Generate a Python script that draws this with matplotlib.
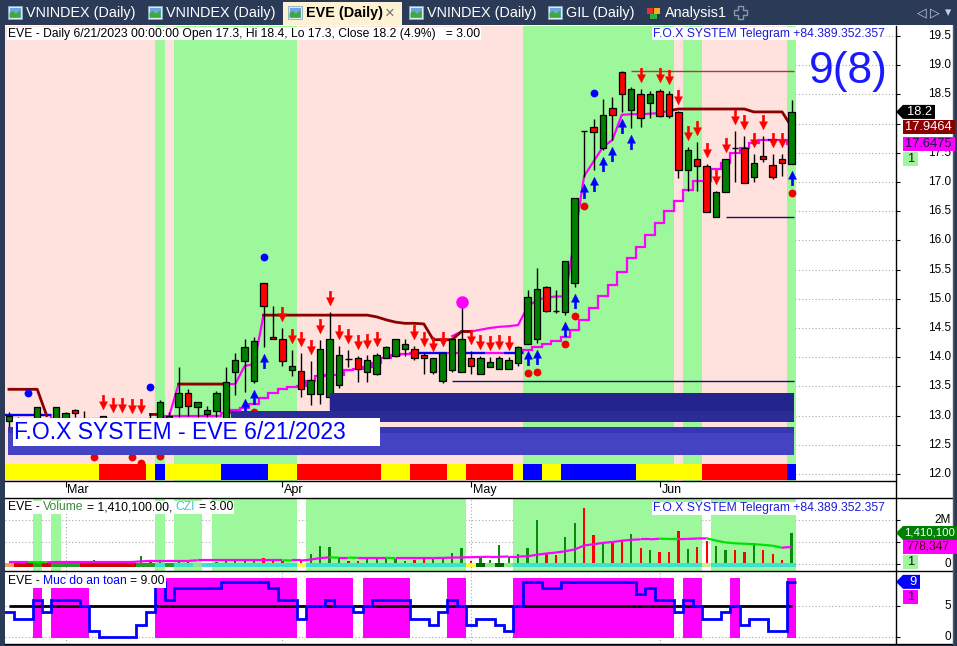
import numpy as np
import pandas as pd
import matplotlib
matplotlib.use("Agg")
import matplotlib.pyplot as plt
import matplotlib.transforms as mtrans
from matplotlib.patches import Rectangle, Polygon
from matplotlib.path import Path
from matplotlib.collections import LineCollection

nan = np.nan

# trading days, HOSE closed May 1-3
dates = pd.bdate_range("2023-02-21", "2023-06-21")
dates = dates[~dates.isin(pd.to_datetime(["2023-05-01", "2023-05-02", "2023-05-03"]))]

opens = [12.90, 12.95, 12.90, 12.85, 12.95, 12.90, 12.90, 13.10, 12.95, 12.85,
         12.99, 12.90, 12.88, 12.85, 12.75, 12.95, 12.90, 12.95, 13.14, 13.38,
         13.14, 13.03, 13.08, 12.96, 13.75, 13.94, 13.60, 15.27, 14.35, 14.32,
         13.78, 13.76, 13.37, 13.37, 13.32, 13.52, 13.97, 13.98, 13.75, 13.71,
         13.98, 14.02, 14.14, 14.14, 14.04, 13.75, 13.60, 13.78, 13.75, 13.98,
         13.71, 13.84, 13.79, 13.79, 13.90, 14.22, 14.32, 15.21, 14.79, 14.78,
         15.27, 17.87, 17.95, 17.58, 18.27, 18.89, 18.24, 18.50, 18.35, 18.56,
         18.50, 18.19, 17.20, 17.39, 17.28, 16.40, 16.83, 17.59, 17.59, 17.09,
         17.45, 17.29, 17.39, 17.30]
highs = [13.06, 12.98, 12.94, 13.15, 12.96, 13.15, 13.06, 13.11, 13.08, 12.95,
         13.00, 12.95, 12.94, 12.93, 12.92, 13.04, 13.27, 13.06, 13.83, 13.45,
         13.24, 13.16, 13.42, 13.83, 14.08, 14.31, 14.35, 15.27, 14.88, 14.50,
         14.12, 14.08, 13.94, 14.30, 14.78, 14.20, 14.12, 14.02, 14.04, 14.08,
         14.20, 14.32, 14.31, 14.19, 14.08, 13.98, 14.08, 14.32, 14.95, 14.11,
         14.02, 14.00, 14.02, 14.00, 14.20, 15.15, 15.52, 15.22, 15.15, 15.64,
         16.72, 17.87, 18.07, 18.42, 18.45, 18.90, 18.62, 18.59, 18.55, 18.60,
         18.55, 18.22, 17.60, 17.69, 17.30, 16.85, 17.39, 17.88, 17.78, 17.48,
         17.78, 17.48, 17.48, 18.40]
lows = [12.80, 12.80, 12.70, 12.75, 12.80, 12.85, 12.85, 12.98, 12.80, 12.78,
        12.80, 12.75, 12.70, 12.78, 12.68, 12.85, 12.80, 12.85, 12.98, 12.99,
        12.98, 12.98, 12.98, 12.90, 13.35, 13.41, 13.55, 14.18, 14.31, 13.85,
        13.67, 13.32, 13.18, 13.20, 13.10, 13.47, 13.83, 13.58, 13.58, 13.70,
        13.98, 14.00, 14.02, 13.95, 13.72, 13.71, 13.55, 13.75, 13.75, 13.72,
        13.71, 13.84, 13.79, 13.79, 13.85, 14.22, 14.24, 14.78, 14.75, 14.72,
        15.20, 17.08, 17.20, 17.55, 17.72, 18.20, 17.92, 17.95, 18.09, 18.11,
        18.10, 17.06, 16.85, 16.85, 16.49, 16.40, 16.83, 17.00, 16.99, 17.00,
        17.35, 17.05, 17.10, 17.30]
closes = [13.00, 12.88, 12.85, 13.15, 12.90, 13.15, 13.05, 13.04, 12.95, 12.92,
          12.96, 12.85, 12.80, 12.82, 12.90, 12.90, 13.23, 12.99, 13.38, 13.17,
          13.23, 13.09, 13.38, 13.57, 13.95, 14.17, 14.28, 14.88, 14.32, 13.94,
          13.85, 13.46, 13.61, 14.14, 14.32, 14.04, 13.97, 13.79, 13.95, 14.04,
          14.17, 14.32, 14.23, 13.98, 13.98, 13.98, 14.08, 14.32, 14.32, 13.85,
          13.98, 13.91, 13.98, 13.95, 14.17, 15.03, 15.16, 14.79, 14.79, 15.64,
          16.72, 17.87, 17.86, 18.15, 18.15, 18.50, 18.60, 18.09, 18.50, 18.13,
          18.13, 17.20, 17.55, 17.28, 16.49, 16.83, 17.39, 17.59, 16.99, 17.33,
          17.39, 17.09, 17.33, 18.20]

# volume in millions of shares and its average line
volume_m = [0.05, 0.06, 0.12, 0.04, 0.05, 0.05, 0.06, 0.05, 0.03, 0.18,
            0.08, 0.06, 0.07, 0.09, 0.38, 0.15, 0.14, 0.05, 0.12, 0.08,
            0.06, 0.05, 0.10, 0.20, 0.22, 0.20, 0.22, 0.29, 0.18, 0.14,
            0.06, 0.18, 0.44, 0.82, 0.76, 0.26, 0.14, 0.15, 0.24, 0.25,
            0.25, 0.24, 0.15, 0.16, 0.22, 0.24, 0.26, 0.48, 0.71, 0.15,
            0.33, 0.18, 0.86, 0.33, 0.45, 0.74, 2.00, 0.48, 0.41, 1.24,
            1.85, 2.56, 1.32, 1.02, 0.98, 1.09, 1.36, 0.71, 0.64, 0.53,
            0.56, 1.50, 0.67, 0.76, 1.06, 0.82, 0.64, 0.64, 0.56, 0.97,
            0.64, 0.45, 0.18, 1.4101]
vol_avg_m = [0.09, 0.09, 0.09, 0.085, 0.08, 0.09, 0.09, 0.09, 0.09, 0.09,
             0.09, 0.09, 0.09, 0.09, 0.12, 0.14, 0.14, 0.14, 0.14, 0.14,
             0.17, 0.17, 0.17, 0.17, 0.17, 0.17, 0.17, 0.17, 0.17, 0.17,
             0.16, 0.16, 0.20, 0.27, 0.30, 0.29, 0.29, 0.28, 0.28, 0.28,
             0.28, 0.27, 0.27, 0.27, 0.27, 0.27, 0.28, 0.29, 0.30, 0.31,
             0.32, 0.33, 0.33, 0.34, 0.34, 0.35, 0.42, 0.48, 0.52, 0.58,
             0.66, 0.84, 0.90, 0.96, 1.00, 1.06, 1.10, 1.12, 1.12, 1.15,
             1.14, 1.13, 1.14, 1.16, 1.17, 1.06, 0.98, 0.94, 0.92, 0.90,
             0.87, 0.83, 0.74, 0.778347]

# system lines on the price pane
res_line = ([13.45] * 4 + [13.00] + [nan] * 10 + [13.02] * 2 + [nan] + [13.54] * 6 + [nan] * 3
            + [14.72] * 12 + [14.69, 14.64, 14.60, 14.58, 14.58, 14.57, 14.30, 14.30, 14.30, 14.44, 14.44]
            + [nan] * 20 + [18.22] + [18.25] * 8 + [18.20] * 4 + [17.9464])
fast_stop = ([nan] * 17 + [13.00] + [13.54] * 6 + [13.54, 13.85, 13.88, 14.72] + [nan] * 19
             + [14.36, 14.44, 14.44, 14.47, 14.50, 14.52, 14.53, 14.55, 14.86, 14.98, 15.02, 15.04,
                15.04, 16.05, 17.10, 17.35, 17.60, 17.72, 18.15, 18.16, 18.16, 18.17, 18.18, 18.22]
             + [nan] * 13)
slow_stop = ([13.01] * 5 + [12.95] * 12 + [12.99] * 6
             + [13.05, 13.10, 13.13, 13.20, 13.30, 13.38, 13.45, 13.49, 13.51, 13.60,
                13.67, 13.70, 13.70, 13.78, 13.80, 13.83, 13.90, 13.99, 14.04, 14.06]
             + [14.08] * 12
             + [14.12, 14.17, 14.22, 14.27, 14.35, 14.47, 14.64, 14.84, 15.04, 15.24,
                15.46, 15.70, 15.89, 16.09, 16.30, 16.51, 16.68, 16.86, 17.02, 17.02,
                17.23, 17.33, 17.49, 17.58, 17.66, 17.72, 17.72, 17.72, 17.6475])
slow_blue_idx = [0, 1, 2, 3, 4, 44, 45, 46, 49, 50, 53, 54, 81]
# horizontal levels: (price, first bar)
top_level = (18.90, 66)
support_levels = [(13.60, 47), (16.40, 76)]
# zones: (low, high, first bar)
zones = [(13.06, 13.39, 34.0), (12.89, 13.08, 23.5), (12.33, 12.80, -0.05)]

sell_idx = [10, 11, 12, 13, 14, 29, 30, 31, 32, 33, 34, 35, 36, 37, 38, 39, 43, 44, 45, 46,
            49, 50, 51, 52, 53, 67, 69, 70, 71, 72, 73, 74, 75, 76, 77, 78, 79, 80, 81, 82]
buy_idx = [25, 26, 27, 55, 56, 59, 60, 61, 62, 63, 64, 65, 66, 83]
blue_dot_idx = [2, 15, 27, 62]
red_dot_idx = [9, 13, 14, 16, 26, 55, 56, 59, 60, 61, 83]
pivot_idx = [48]

bg_green_idx = [16] + list(range(18, 31)) + list(range(55, 71)) + [72, 73, 83]
vol_green_idx = [3, 5, 16, 18, 19, 20] + list(range(22, 31)) + list(range(32, 49)) + list(range(54, 74)) + list(range(75, 84))
main_ribbon_runs = [("y", 10), ("r", 5), ("y", 1), ("b", 1), ("y", 6), ("b", 5), ("y", 3), ("r", 9),
                    ("y", 3), ("r", 4), ("y", 2), ("r", 5), ("y", 1), ("b", 2), ("y", 2), ("b", 8),
                    ("y", 7), ("r", 9), ("b", 1)]
vol_ribbon_runs = [("o", 1), ("r", 2), ("g", 1), ("r", 1), ("g", 3), ("r", 6), ("g", 2), ("t", 1),
                   ("g", 1), ("t", 2), ("l", 1), ("t", 10), ("y", 1), ("t", 17), ("y", 1), ("d", 1),
                   ("l", 1), ("d", 1), ("l", 1), ("t", 20), ("k", 1), ("t", 9)]
safety = [4, 3, 3, 6, 4, 6, 6, 6, 5, 1, 0, 0, 0, 0, 2, 4, 9, 6, 8, 8,
          8, 8, 8, 9, 9, 9, 9, 9, 8, 6, 6, 3, 5, 5, 6, 5, 5, 4, 5, 6,
          6, 6, 6, 3, 3, 2, 4, 6, 5, 2, 3, 3, 2, 1, 5, 9, 9, 8, 8, 9,
          9, 9, 9, 9, 9, 9, 9, 7, 8, 6, 6, 4, 6, 5, 3, 3, 4, 5, 2, 3,
          3, 1, 1, 9]

o = np.array(opens); h = np.array(highs); l = np.array(lows); c = np.array(closes)
n = len(o)
idx = np.arange(n)

def expand(runs):
    out = []
    for code, k in runs:
        out += [code] * k
    return out

# ---------------- figure frame ----------------
W, H = 957, 646
plt.rcParams["font.family"] = ["Liberation Sans", "DejaVu Sans"]
fig = plt.figure(figsize=(W / 100, H / 100), dpi=100)
fig.patch.set_facecolor("#2b3a57")
renderer = fig.canvas.get_renderer()

GREEN = "#9cf89a"
PINK = "#ffe1de"
MAG = "#ff00ff"


def frect(x0, y0, x1, y1, **kw):
    r = Rectangle((x0 / W, 1 - y1 / H), (x1 - x0) / W, (y1 - y0) / H, transform=fig.transFigure, **kw)
    fig.add_artist(r)
    return r


def fpoly(pts, **kw):
    p = Polygon([(x / W, 1 - y / H) for x, y in pts], closed=True, transform=fig.transFigure, **kw)
    fig.add_artist(p)


def fline(x0, y0, x1, y1, **kw):
    fig.add_artist(plt.Line2D([x0 / W, x1 / W], [1 - y0 / H, 1 - y1 / H], transform=fig.transFigure, **kw))


def ftext(x, y, s, **kw):
    return fig.text(x / W, 1 - y / H, s, **kw)


def text_w(s, size, weight="normal"):
    t = fig.text(0, 0, s, fontsize=size, fontweight=weight)
    w = t.get_window_extent(renderer).width
    t.remove()
    return w


def rich_text(x, y, parts, size=8.7, z=12):
    dot = text_w(".", size)
    pre = ""
    for s, col in parts:
        lead = len(s) - len(s.lstrip())
        head = pre + s[:lead]
        off = (text_w(head + ".", size) - dot) if head else 0
        ftext(x + off, y, s.strip(), color=col, fontsize=size, va="center", ha="left", zorder=z + 1)
        pre += s
    total = text_w(pre, size)
    frect(x - 1, y - 6.5, x + total + 1, y + 6.5, fc="white", ec="none", zorder=z)


def add_ax(x0, y0, x1, y1):
    return fig.add_axes([x0 / W, 1 - y1 / H, (x1 - x0) / W, (y1 - y0) / H])


frect(5, 25, 953, 644, fc="white", ec="none", zorder=-5)

# tab bar
tabs = [("VNINDEX (Daily)", 8), ("VNINDEX (Daily)", 148), ("EVE (Daily)", 288),
        ("VNINDEX (Daily)", 409), ("GIL (Daily)", 548)]
frect(283, 2, 402, 25, fc="#fdf2d4", ec="none", zorder=1)
for name, x in tabs:
    frect(x, 6, x + 14, 19, fc="#dfe9f5", ec="#8fa8c8", lw=0.6, zorder=2)
    frect(x + 1.5, 7.5, x + 12.5, 17.5, fc="#6fa6dc", ec="none", zorder=2)
    fpoly([(x + 1.5, 17.5), (x + 1.5, 13), (x + 5, 11), (x + 8, 14), (x + 12.5, 10), (x + 12.5, 17.5)],
          fc="#3caa3c", ec="none", zorder=2)
    active = name.startswith("EVE")
    ftext(x + 18, 13.5, name, fontsize=10.4, va="center", ha="left", zorder=3,
          color="black" if active else "white", fontweight="bold" if active else "normal")
ftext(390, 13, "\u00d7", fontsize=12, color="#707070", va="center", ha="center", zorder=3)
frect(647, 8, 653, 14, fc="#e83030", ec="none", zorder=2)
frect(654, 8, 660, 14, fc="#f0b020", ec="none", zorder=2)
frect(650, 14, 657, 19, fc="#30b040", ec="none", zorder=2)
ftext(665, 13.5, "Analysis1", fontsize=10.4, va="center", ha="left", color="white", zorder=3)
fpoly([(738, 6), (743, 6), (743, 10), (747, 10), (747, 15), (743, 15), (743, 19), (738, 19),
       (738, 15), (734, 15), (734, 10), (738, 10)], fc="none", ec="#8a97ab", lw=1, zorder=3)
for xx, s in [(922, "\u25c1"), (935, "\u25b7"), (948, "\u25be")]:
    ftext(xx, 13, s, fontsize=9, color="#c8d0dc", va="center", ha="center", zorder=3)

# ---------------- panes ----------------
ax = add_ax(5, 26, 896, 481)
axv = add_ax(5, 498, 896, 571)
axb = add_ax(5, 571, 896, 644)
XL = (-0.42, 94.08)
for a in (ax, axv, axb):
    a.set_xlim(*XL)
    a.set_facecolor("white")
    for s in a.spines.values():
        s.set_visible(False)
    a.yaxis.set_ticks_position("right")
    a.tick_params(axis="y", right=True, left=False, labelright=False, labelleft=False,
                  direction="out", length=3, width=0.8, color="black")
    a.tick_params(axis="x", bottom=False, labelbottom=False)

month_idx = [i for i in range(1, n) if dates[i].month != dates[i - 1].month]
edges = np.arange(-0.5, n)


def ytr(a):
    return mtrans.blended_transform_factory(a.transAxes, a.transData)


def xf(px):
    return (px - 5) / 891.0


grid_kw = dict(colors="#a8a8a8", linestyles=(0, (1, 2)), lw=0.8)

# ---- main price pane ----
YL = (11.880, 19.671)
ax.set_ylim(*YL)
price_levels = np.arange(12.0, 19.51, 0.5)
ax.set_yticks(price_levels)
ax.hlines(price_levels, XL[0], XL[1], zorder=0.2, **grid_kw)
for lv in price_levels:
    if abs(lv - 18.0) < 1e-6:
        continue  # fully hidden behind the last-value tags
    ax.text(xf(951), lv, f"{lv:.1f}", transform=ytr(ax), ha="right", va="center", fontsize=8.5, clip_on=False)

bg_cols = [GREEN if i in bg_green_idx else PINK for i in idx]
ax.bar(idx, YL[1] - YL[0], bottom=YL[0], width=1.0, color=bg_cols, lw=0, zorder=0.5, antialiased=False)
rib_map = {"y": "#ffff00", "r": "#ff0000", "b": "#0000ff"}
ax.bar(idx, 12.17 - 11.89, bottom=11.89, width=1.0, color=[rib_map[k] for k in expand(main_ribbon_runs)],
       lw=0, zorder=1, antialiased=False)

ax.hlines(top_level[0], top_level[1], n - 0.7, color="#b03a3a", lw=1, zorder=2)
for lv, st in support_levels:
    ax.hlines(lv, st, n - 0.7, color="#14146e", lw=1, zorder=2)

ax.plot(idx, fast_stop, color=MAG, lw=1.6, zorder=2.1)
ax.plot(idx, res_line, color="#8b0000", lw=2.0, zorder=2.3)
ax.stairs(slow_stop, edges, baseline=None, color=MAG, lw=1.6, zorder=2.1)
ss = np.array(slow_stop)
ax.hlines(ss[slow_blue_idx], np.array(slow_blue_idx) - 0.5, np.array(slow_blue_idx) + 0.5,
          color="#0000ff", lw=1.6, zorder=2.2)

# candles
up = c > o
dn = c < o
fl = c == o
ax.vlines(idx, l, h, color="black", lw=1, zorder=3)
ax.bar(idx[up], (c - o)[up], bottom=o[up], width=0.68, color="#008000", edgecolor="black", lw=0.9, zorder=3.1)
ax.bar(idx[dn], (o - c)[dn], bottom=c[dn], width=0.68, color="#ff0000", edgecolor="black", lw=0.9, zorder=3.1)
ax.hlines(o[fl], idx[fl] - 0.34, idx[fl] + 0.34, color="black", lw=1, zorder=3.1)

# signals
arrow_dn = Path([(-0.16, 1.0), (0.16, 1.0), (0.16, 0.1), (0.55, 0.1), (0.0, -1.0), (-0.55, 0.1),
                 (-0.16, 0.1), (-0.16, 1.0)],
                [Path.MOVETO] + [Path.LINETO] * 6 + [Path.CLOSEPOLY])
arrow_up = Path(arrow_dn.vertices * np.array([1, -1]), arrow_dn.codes)


def shift(px):
    return mtrans.offset_copy(ax.transData, fig=fig, x=0, y=px, units="dots")


ax.plot(idx[sell_idx], h[sell_idx], ls="none", marker=arrow_dn, ms=10.5, mfc="#ff0000", mec="#ff0000",
        mew=0.3, transform=shift(14), zorder=4)
ax.plot(idx[buy_idx], l[buy_idx], ls="none", marker=arrow_up, ms=10.5, mfc="#0000ff", mec="#0000ff",
        mew=0.3, transform=shift(-14), zorder=4)
ax.plot(idx[blue_dot_idx], h[blue_dot_idx], ls="none", marker="o", ms=4.6, color="#0000ff",
        transform=shift(26), zorder=4)
ax.plot(idx[red_dot_idx], l[red_dot_idx], ls="none", marker="o", ms=4.6, color="#f00000",
        transform=shift(-29), zorder=4)
ax.plot(idx[pivot_idx], h[pivot_idx], ls="none", marker="o", ms=8, color=MAG, zorder=4)

zone_cols = ["#24248c", "#2c2c96", "#4343c3"]
for (lo, hi, st), col in zip(zones, zone_cols):
    ax.add_patch(Rectangle((st, lo), n - 0.7 - st, hi - lo, fc=col, ec="none", zorder=5))
ax.add_patch(Rectangle((zones[2][2], 12.70), n - 0.7 - zones[2][2], 0.10, fc="#3737b4", ec="none", zorder=5))

# month axis
ax.spines["bottom"].set_visible(True)
ax.spines["bottom"].set_linewidth(1)
ax.set_xticks(month_idx)
ax.tick_params(axis="x", bottom=True, direction="out", length=4.3, width=0.8, labelbottom=False)
xtr = mtrans.blended_transform_factory(ax.transData, ax.transAxes)
for m in month_idx:
    ax.text(m + 0.2, -0.0205, dates[m].strftime("%b"), transform=xtr, ha="left", va="center", fontsize=9,
            clip_on=False)

# ---- volume pane ----
VL = (-0.318, 3.0)
axv.set_ylim(*VL)
axv.set_yticks([0, 1, 2])
axv.hlines([0, 1, 2], XL[0], XL[1], zorder=0.2, **grid_kw)
axv.vlines(month_idx, VL[0], VL[1], zorder=0.2, **grid_kw)
axv.bar(idx[vol_green_idx], VL[1] - VL[0], bottom=VL[0], width=1.0, color=GREEN, lw=0, zorder=0.5,
        antialiased=False)
vol = np.array(volume_m)
axv.bar(idx, vol, width=0.24, color=np.where(up, "#0a8a0a", "#ff0000"), lw=0, zorder=3)
vr_map = {"o": "#f4a460", "r": "#d00000", "g": "#22a022", "t": "#40e0d0", "l": "#8ee88e",
          "y": "#ffff40", "d": "#006400", "k": "#c8f08c"}
axv.bar(idx, 0.2, bottom=-0.14, width=1.0, color=[vr_map[k] for k in expand(vol_ribbon_runs)],
        lw=0, zorder=3.5, antialiased=False)
va = np.array(vol_avg_m)
segs = [[(i, va[i]), (i + 1, va[i + 1])] for i in range(n - 1)]
seg_cols = [MAG if va[i + 1] >= va[i] else "#00e000" for i in range(n - 1)]
axv.add_collection(LineCollection(segs, colors=seg_cols, linewidths=1.6, zorder=4))
for v, s in [(2, "2M"), (0, "0")]:
    axv.text(xf(951), v, s, transform=ytr(axv), ha="right", va="center", fontsize=8.5, clip_on=False)

# ---- safety level pane ----
BL = (-1.14, 10.77)
axb.set_ylim(*BL)
axb.set_yticks([0, 5])
axb.hlines([0, 5], XL[0], XL[1], zorder=0.2, **grid_kw)
axb.vlines(month_idx, BL[0], BL[1], zorder=0.2, **grid_kw)
lvl = np.array(safety)
safe = lvl >= 5
axb.bar(idx[safe], 9.8, bottom=-0.2, width=1.0, color=MAG, lw=0, zorder=1, antialiased=False)
axb.hlines(5, 0, n - 1, color="black", lw=2, zorder=2)
axb.stairs(lvl, edges, baseline=None, color="#0000ff", lw=2, zorder=3)
for v in [5, 0]:
    axb.text(xf(951), v, str(v), transform=ytr(axb), ha="right", va="center", fontsize=8.5, clip_on=False)

# separators / borders
fline(5, 498, 952, 498, color="black", lw=1, zorder=6)
fline(5, 571, 952, 571, color="black", lw=1, zorder=6)
fline(5, 644, 952, 644, color="black", lw=1, zorder=6)
fline(896, 26, 896, 644, color="black", lw=1, zorder=6)
fline(952.5, 25, 952.5, 644, color="#505a6a", lw=1, zorder=6)

# ---- titles and overlay texts ----
last = dates[-1]
title = (f"EVE - Daily {last.month}/{last.day}/{last.year} 00:00:00 Open {opens[-1]:.1f}, "
         f"Hi {highs[-1]:.1f}, Lo {lows[-1]:.1f}, Close {closes[-1]:.1f} (4.9%)   = 3.00")
rich_text(8, 33.5, [(title, "black")])
tele = "F.O.X SYSTEM Telegram +84.389.352.357"
tw = text_w(tele, 8.7)
for yy in (33.5, 508):
    rich_text(885 - tw, yy, [(tele, "#1c1cd8")])
rich_text(8, 507.5, [("EVE - ", "black"), ("Volume", "#3a8a3a"),
                     (f" = {vol[-1] * 1e6:,.2f}, ", "black"), ("CZI", "#3cc8c8"), (" = 3.00", "black")])
rich_text(8, 581, [("EVE - ", "black"), ("Muc do an toan", "#0000ff"), (f" = {lvl[-1]:.2f}", "black")])

frect(13, 418, 380, 446, fc="white", ec="none", zorder=10)
ftext(14, 432.5, f"F.O.X SYSTEM - EVE {last.month}/{last.day}/{last.year}", fontsize=16.5,
      color="#0000ff", va="center", ha="left", zorder=11)
ftext(809, 72, "9(8)", fontsize=32, color="#1a1aff", va="center", ha="left", zorder=11)

# ---- last-value tags on the right ----
IDT = mtrans.IdentityTransform()


def tag(a, v, s, fc, tc, x0, x1, arrow=False, left=False, dy=0, hgt=14, size=9.3):
    yc = a.transData.transform((0, v))[1] + dy
    if arrow:
        pts = [(x0, yc), (x0 + 7, yc + hgt / 2), (x1, yc + hgt / 2), (x1, yc - hgt / 2), (x0 + 7, yc - hgt / 2)]
    else:
        pts = [(x0, yc - hgt / 2), (x0, yc + hgt / 2), (x1, yc + hgt / 2), (x1, yc - hgt / 2)]
    fig.add_artist(Polygon(pts, closed=True, fc=fc, ec="none", transform=IDT, zorder=20))
    if left:
        fig.text(x0 + (8 if arrow else 3), yc, s, color=tc, fontsize=size, ha="left", va="center",
                 transform=IDT, zorder=21)
    else:
        fig.text(x1 - 3, yc, s, color=tc, fontsize=size, ha="right", va="center", transform=IDT, zorder=21)


tag(ax, closes[-1], f"{closes[-1]:.1f}", "black", "white", 896, 935, arrow=True)
tag(ax, res_line[-1], f"{res_line[-1]:.4f}", "#8b0000", "white", 903, 955)
tag(ax, slow_stop[-1], f"{slow_stop[-1]:.4f}", MAG, "#1a1a40", 903, 955)
tag(ax, slow_stop[-1], "1", GREEN, "#1a1a1a", 903, 918, dy=-15)
tag(axv, vol[-1], f"{int(round(vol[-1] * 1e6)):,}", "#008000", "white", 896, 957, arrow=True, left=True,
    size=8.2)
tag(axv, va[-1], f"{int(round(va[-1] * 1e6)):,}", MAG, "#500000", 903, 957, left=True, size=8.6)
tag(axv, va[-1], "1", GREEN, "#1a1a1a", 903, 918, dy=-15)
tag(axb, lvl[-1], f"{lvl[-1]}", "#0000ff", "white", 896, 920, arrow=True)
tag(axb, lvl[-1], "1", MAG, "#1a1a40", 903, 918, dy=-15)

fig.savefig("out.png", dpi=100, facecolor=fig.get_facecolor())
